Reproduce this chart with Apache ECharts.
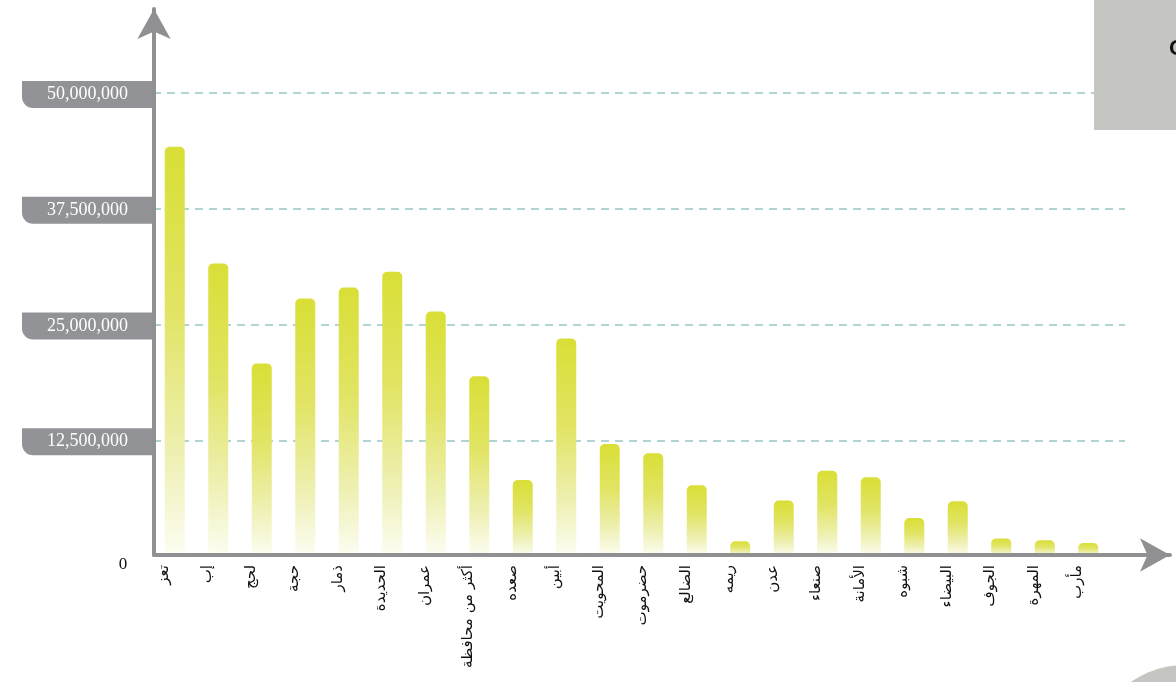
<!DOCTYPE html>
<html>
<head>
<meta charset="utf-8">
<script src="https://cdn.jsdelivr.net/npm/echarts@6/dist/echarts.min.js"></script>
<style>
  html, body { margin: 0; padding: 0; background: #ffffff; }
  #chart { width: 1176px; height: 682px; }
</style>
</head>
<body>
<div id="chart"></div>
<script>
// Governorates (Arabic labels on the category axis)
const categories = [
  'تعز', 'إب', 'لحج', 'حجة', 'ذمار', 'الحديدة', 'عمران', 'أكثر من محافظة',
  'صعده', 'أبين', 'المحويت', 'حضرموت', 'الضالع', 'ريمه', 'عدن', 'صنعاء',
  'الأمانة', 'شبوه', 'البيضاء', 'الجوف', 'المهرة', 'مأرب'
];

// Value per governorate
const values = [
  44200000, 31600000, 20800000, 27800000, 29000000, 30700000, 26400000, 19400000,
  8200000, 23500000, 12100000, 11100000, 7650000, 1600000, 6000000, 9200000,
  8500000, 4100000, 5900000, 1900000, 1700000, 1400000
];

// Value axis ticks
const yTicks = [0, 12500000, 25000000, 37500000, 50000000];

const AXIS_GREY = '#909093';
const chart = echarts.init(document.getElementById('chart'), null, { renderer: 'canvas' });

const barGradient = new echarts.graphic.LinearGradient(0, 0, 0, 1, [
  { offset: 0, color: '#d9df36' },
  { offset: 0.4, color: '#e1e463' },
  { offset: 0.75, color: '#eef0b2' },
  { offset: 1, color: '#fdfdf3' }
]);

const option = {
  backgroundColor: '#ffffff',
  animation: false,
  grid: [
    // value labels and dashed guide lines
    { left: 153, right: 51, top: 93, bottom: 126 },
    // bars
    { left: 153, right: 66, top: 93, bottom: 126 },
    // axis lines with arrow heads
    { left: 154, right: 6, top: 9, bottom: 127 }
  ],
  xAxis: [
    { gridIndex: 0, type: 'value', show: false, min: 0, max: 1 },
    {
      gridIndex: 1,
      type: 'category',
      data: categories,
      boundaryGap: true,
      axisLine: { show: false },
      axisTick: { show: false },
      axisLabel: {
        interval: 0,
        rotate: 90,
        margin: 9,
        verticalAlign: 'bottom',
        lineHeight: 22,
        fontFamily: 'DejaVu Sans',
        fontSize: 15,
        color: '#111111'
      }
    },
    {
      gridIndex: 2,
      type: 'value',
      min: 0,
      max: 1,
      z: 5,
      axisLine: {
        show: true,
        onZero: false,
        symbol: ['none', 'arrow'],
        symbolSize: [25, 30],
        lineStyle: { color: AXIS_GREY, width: 4 }
      },
      axisTick: { show: false },
      axisLabel: { show: false },
      splitLine: { show: false }
    }
  ],
  yAxis: [
    {
      gridIndex: 0,
      type: 'value',
      min: yTicks[0],
      max: yTicks[yTicks.length - 1],
      interval: yTicks[1] - yTicks[0],
      axisLine: { show: false },
      axisTick: { show: false },
      splitLine: {
        show: true,
        lineStyle: { color: '#b2d3d4', width: 2, type: [8, 6] }
      },
      axisLabel: {
        margin: 0,
        padding: [3, 0, 0, 0],
        formatter: function (v) {
          if (v === 0) return '{z|0}';
          return '{b|' + v.toLocaleString('en-US') + '}';
        },
        rich: {
          b: {
            width: 131,
            height: 27,
            lineHeight: 27,
            align: 'center',
            backgroundColor: '#929397',
            borderRadius: [0, 0, 0, 11],
            color: '#ffffff',
            fontFamily: 'Liberation Serif',
            fontSize: 18
          },
          z: {
            width: 60,
            align: 'center',
            padding: [15, 0, 0, 0],
            color: '#111111',
            fontFamily: 'Liberation Serif',
            fontSize: 17
          }
        }
      }
    },
    {
      gridIndex: 1,
      type: 'value',
      show: false,
      min: yTicks[0],
      max: yTicks[yTicks.length - 1]
    },
    {
      gridIndex: 2,
      type: 'value',
      min: 0,
      max: 1,
      z: 5,
      axisLine: {
        show: true,
        onZero: false,
        symbol: ['none', 'arrow'],
        symbolSize: [25, 30],
        lineStyle: { color: AXIS_GREY, width: 4 }
      },
      axisTick: { show: false },
      axisLabel: { show: false },
      splitLine: { show: false }
    }
  ],
  series: [
    {
      type: 'bar',
      xAxisIndex: 1,
      yAxisIndex: 1,
      data: values,
      barWidth: 20,
      itemStyle: {
        color: barGradient,
        borderRadius: [5, 5, 0, 0]
      }
    }
  ],
  graphic: [
    {
      type: 'rect',
      left: 1094,
      top: 0,
      z: 10,
      shape: { width: 82, height: 130 },
      style: { fill: '#c5c5c1' }
    },
    {
      type: 'text',
      x: 1169,
      y: 38,
      z: 11,
      style: { text: 'O', fill: '#111111', font: 'bold 22px Liberation Sans' }
    },
    {
      type: 'circle',
      z: 10,
      shape: { cx: 1185, cy: 760, r: 95 },
      style: { fill: '#c5c5c1' }
    }
  ]
};

chart.setOption(option);
</script>
</body>
</html>
